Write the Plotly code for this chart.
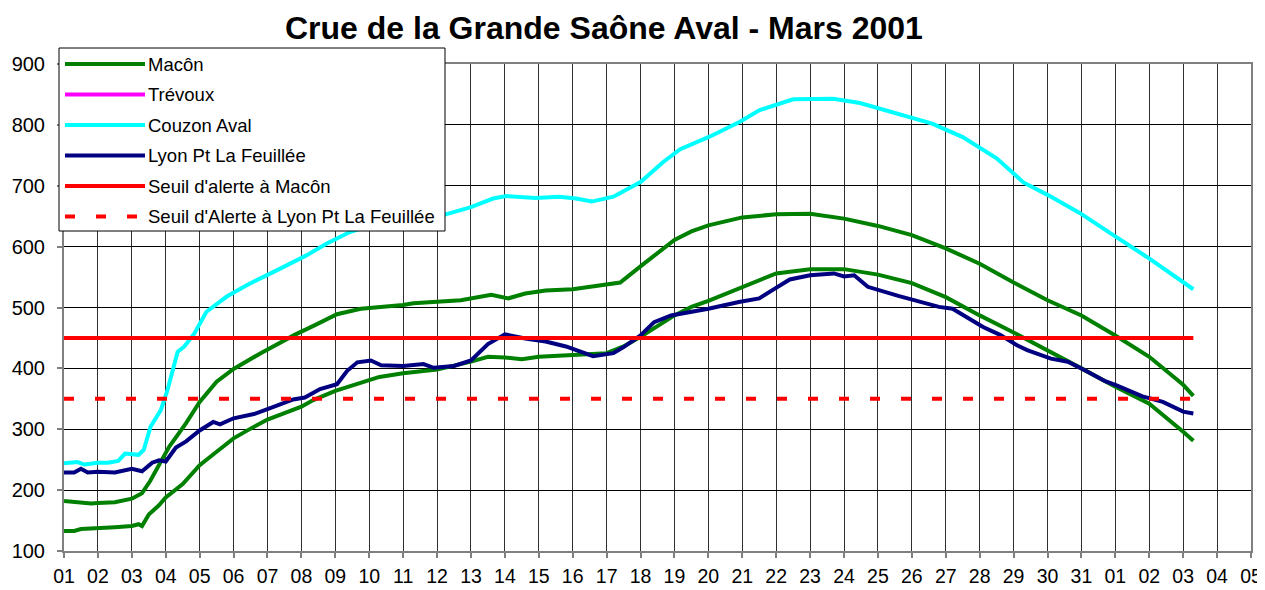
import plotly.graph_objects as go

# ---------------- data ----------------
# x = days since 1 March 2001 (tick "01" = 0)
day_labels = ["%02d" % d for d in range(1, 32)] + ["01", "02", "03", "04", "05"]
day_ticks = list(range(len(day_labels)))

macon_x = [0, 0.5, 0.8, 1, 1.5, 2, 2.3, 2.54, 2.8, 3.1, 3.6, 4.0, 4.5, 5.0, 5.8, 6.8, 7.4, 8.05,
           8.75, 9.3, 10, 10.3, 11, 11.7, 12.6, 13.1, 13.6, 14.2, 15, 15.6, 16.4, 17.1, 17.5, 18,
           18.5, 19, 20, 21, 22, 23, 24, 25, 26, 27, 28, 29, 30, 31, 32, 33, 33.3]
macon_y = [182, 180, 178, 179, 180, 186, 195, 215, 240, 271, 310, 345, 378, 399, 425, 455, 471, 489,
           498, 500, 504, 507, 509, 512, 521, 515, 523, 528, 530, 535, 541, 572, 589, 611,
           625, 635, 648, 653, 654, 646, 634, 619, 597, 572, 541, 512, 487, 454, 419, 373, 355]

macon2_x = [0, 0.3, 0.5, 1, 1.5, 2, 2.2, 2.3, 2.5, 2.8, 3, 3.5, 4, 4.5, 5, 5.5, 6, 7, 7.35, 8,
            8.75, 9.3, 10, 11, 12, 12.5, 13, 13.5, 14, 15, 16, 16.5, 17, 18, 18.5, 19, 20, 21,
            22, 23, 24, 25, 26, 27, 28, 29, 30, 31, 32, 33, 33.3]
macon2_y = [133, 133, 136, 137, 139, 141, 144, 141, 160, 175, 188, 210, 241, 263, 285, 301, 316, 337, 348, 363,
            377, 386, 392, 398, 411, 419, 418, 415, 419, 422, 425, 436, 452, 487, 501, 511, 534, 556,
            563, 563, 554, 540, 517, 487, 459, 430, 400, 370, 342, 296, 281]

couzon_x = [0, 0.4, 0.6, 1, 1.3, 1.6, 1.8, 2.2, 2.35, 2.55, 2.85, 3.05, 3.35, 3.55, 3.84, 4.2, 4.8,
            5.4, 6.27, 7.16, 7.75, 8.43, 9, 10, 11, 12, 12.65, 13.05, 13.9, 14.6, 15.1, 15.56, 16.2,
            17, 17.67, 18.17, 19.05, 19.93, 20.5, 21.5, 22.68, 23.47, 24.45, 25.6, 26.5, 27.0, 27.5,
            28.0, 28.3, 29.0, 29.96, 30.94, 31.93, 33.3]
couzon_y = [244, 246, 242, 245, 245, 248, 260, 258, 266, 304, 331, 364, 427, 436, 457, 493, 518,
            537, 561, 586, 605, 624, 634, 642, 649, 665, 679, 683, 680, 682, 679, 674, 682,
            706, 739, 760, 781, 805, 824, 842, 843, 836, 821, 802, 780, 763, 745,
            720, 705, 685, 655, 619, 583, 530]

lyon_x = [0, 0.3, 0.5, 0.7, 1, 1.5, 2, 2.3, 2.6, 2.8, 3, 3.3, 3.6, 4, 4.4, 4.6, 5, 5.6, 6.1, 6.76,
          7.1, 7.55, 8.05, 8.35, 8.65, 9.05, 9.35, 10, 10.6, 10.9, 11.5, 12, 12.5, 13, 13.6, 14.2,
          14.8, 15.6, 16.2, 16.5, 17, 17.4, 17.9, 18.6, 19, 19.9, 20.5, 20.9, 21.4, 22, 22.7, 23,
          23.3, 23.7, 24.6, 25.8, 26.2, 27.1, 27.6, 28.1, 28.4, 29.1, 29.6, 30.1, 30.7, 31, 31.8,
          32.4, 33, 33.3]
lyon_y = [229, 229, 235, 229, 230, 229, 235, 231, 245, 249, 247, 270, 280, 298, 312, 308, 318, 325, 335, 349,
          352, 366, 374, 396, 410, 413, 405, 404, 407, 401, 404, 413, 440, 456, 449, 444,
          436, 420, 425, 435, 454, 476, 487, 493, 498, 509, 515, 529, 546, 553, 556, 551,
          553, 534, 519, 501, 498, 468, 455, 438, 430, 416, 411, 397, 379, 373, 354,
          345, 329, 326]

seuil_macon = 450
seuil_lyon = 350

# ---------------- figure ----------------
# page body has an 8px default margin: figure is sized/offset so the plot
# area lands at 64..1251 x 64..551 in the 1265x590 window
OFF = 8
W, H = 1257, 582
L, R, T, B = 56, 14, 56, 39
pw, ph = W - L - R, H - T - B

GREEN, MAGENTA, CYAN, NAVY, RED = "#008000", "#FF00FF", "#00FFFF", "#000080", "#FF0000"
FONT = "Arial, Liberation Sans, sans-serif"

x_end = max(macon_x[-1], couzon_x[-1], lyon_x[-1])

fig = go.Figure()
fig.add_trace(go.Scatter(x=macon_x, y=macon_y, mode="lines", name="Macôn",
                         line=dict(color=GREEN, width=4)))
fig.add_trace(go.Scatter(x=macon2_x, y=macon2_y, mode="lines", name="Macôn (2)",
                         line=dict(color=GREEN, width=4)))
fig.add_trace(go.Scatter(x=couzon_x, y=couzon_y, mode="lines", name="Couzon Aval",
                         line=dict(color=CYAN, width=4)))
fig.add_trace(go.Scatter(x=lyon_x, y=lyon_y, mode="lines", name="Lyon Pt La Feuillée",
                         line=dict(color=NAVY, width=4)))
fig.add_trace(go.Scatter(x=[0, x_end], y=[seuil_macon, seuil_macon], mode="lines",
                         name="Seuil d'alerte à Macôn", line=dict(color=RED, width=4)))
fig.add_trace(go.Scatter(x=[0, x_end], y=[seuil_lyon, seuil_lyon], mode="lines",
                         name="Seuil d'Alerte à Lyon Pt La Feuillée",
                         line=dict(color=RED, width=4, dash="10px,21px")))

# ---------------- custom legend (boxed, upper-left) ----------------
def px2x(p):
    return (p - OFF - L) / pw

def py2y(p):
    return (OFF + T + ph - p) / ph

legend_items = [
    ("Macôn", GREEN, "solid"),
    ("Trévoux", MAGENTA, "solid"),
    ("Couzon Aval", CYAN, "solid"),
    ("Lyon Pt La Feuillée", NAVY, "solid"),
    ("Seuil d'alerte à Macôn", RED, "solid"),
    ("Seuil d'Alerte à Lyon Pt La Feuillée", RED, "10px,21px"),
]
shapes = [dict(type="rect", xref="paper", yref="paper",
               x0=px2x(59), x1=px2x(445), y0=py2y(231), y1=py2y(48),
               fillcolor="white", line=dict(color="black", width=1), layer="above")]
annotations = []
row0, step = 64, 30.5
for i, (label, col, dash) in enumerate(legend_items):
    yy = py2y(row0 + i * step)
    shapes.append(dict(type="line", xref="paper", yref="paper",
                       x0=px2x(65), x1=px2x(145), y0=yy, y1=yy,
                       line=dict(color=col, width=4, dash=dash), layer="above"))
    annotations.append(dict(xref="paper", yref="paper", x=px2x(146), y=yy,
                            xanchor="left", yanchor="middle", showarrow=False,
                            text=label, font=dict(family=FONT, size=18.5, color="black")))

annotations.append(dict(xref="paper", yref="paper", x=px2x(604), y=py2y(28),
                        xanchor="center", yanchor="middle", showarrow=False,
                        text="<b>Crue de la Grande Saône Aval - Mars 2001</b>",
                        font=dict(family=FONT, size=32, color="black")))

fig.update_layout(
    width=W, height=H, autosize=False,
    margin=dict(l=L, r=R, t=T, b=B, pad=0, autoexpand=False),
    paper_bgcolor="white", plot_bgcolor="white",
    showlegend=False,
    shapes=shapes, annotations=annotations,
    font=dict(family=FONT, color="black"),
)
fig.update_xaxes(range=[0, 35], tickmode="array", tickvals=day_ticks, ticktext=day_labels,
                 showgrid=True, gridcolor="#303030", gridwidth=1,
                 showline=True, linecolor="#808080", linewidth=2, mirror=True,
                 ticks="outside", ticklen=5, tickcolor="#808080", tickwidth=2,
                 tickfont=dict(family=FONT, size=19.5, color="black"),
                 ticklabelstandoff=2, zeroline=False, automargin=False)
fig.update_yaxes(range=[100, 900], tickmode="linear", tick0=100, dtick=100,
                 showgrid=True, gridcolor="black", gridwidth=1,
                 showline=True, linecolor="#808080", linewidth=2, mirror=True,
                 ticks="outside", ticklen=5, tickcolor="#808080", tickwidth=2,
                 tickfont=dict(family=FONT, size=20, color="black"),
                 ticklabelstandoff=8, zeroline=False, automargin=False)

fig.write_html("out.html")
